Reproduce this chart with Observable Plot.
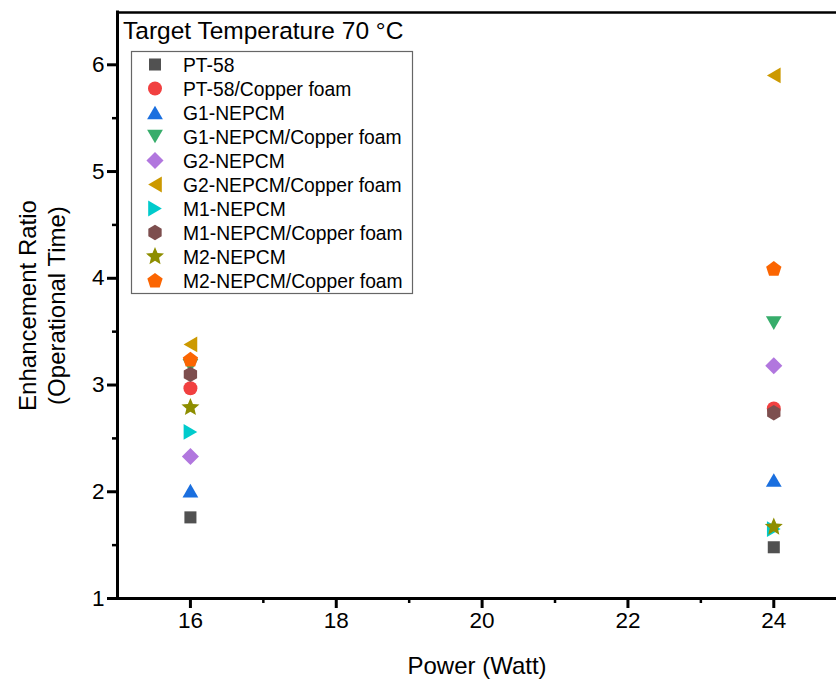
<!DOCTYPE html>
<html><head><meta charset="utf-8">
<script src="https://cdn.jsdelivr.net/npm/d3@7"></script>
<script src="https://cdn.jsdelivr.net/npm/@observablehq/plot@0.6"></script>
<style>
body{margin:0;background:#fff;}
#chart svg{display:block;}
</style>
</head><body><div id="chart"></div>
<script>
// ---- data ----
const powers = [16, 24];
const seriesNames = ["PT-58", "PT-58/Copper foam", "G1-NEPCM", "G1-NEPCM/Copper foam", "G2-NEPCM",
  "G2-NEPCM/Copper foam", "M1-NEPCM", "M1-NEPCM/Copper foam", "M2-NEPCM", "M2-NEPCM/Copper foam"];
const valuesAt16 = [1.76, 2.97, 2.01, 3.18, 2.33, 3.38, 2.56, 3.10, 2.79, 3.24];
const valuesAt24 = [1.48, 2.78, 2.11, 3.58, 3.18, 5.90, 1.65, 2.74, 1.67, 4.09];
const seriesColors = ["#515151", "#F14040", "#1A6FDF", "#37AD6B", "#B177DE",
  "#CC9900", "#00CBCC", "#7D4E4E", "#8E8E00", "#FB6501"];
const seriesShapes = ["square", "circle", "triangleUp", "triangleDown", "diamond",
  "triangleLeft", "triangleRight", "hexagon", "star", "pentagon"];
const xMajorTicks = [16, 18, 20, 22, 24];
const xMinorTicks = [17, 19, 21, 23];
const yMajorTicks = [1, 2, 3, 4, 5, 6];
const yMinorTicks = [1.5, 2.5, 3.5, 4.5, 5.5];
const xTitle = "Power (Watt)";
const yTitle = "Enhancement Ratio\n(Operational Time)";
const legendTitle = "Target Temperature 70 °C";

// ---- custom symbols ----
function polyPath(ctx, pts) {
  ctx.moveTo(pts[0][0], pts[0][1]);
  for (let k = 1; k < pts.length; k++) ctx.lineTo(pts[k][0], pts[k][1]);
  ctx.closePath();
}
function regularPts(n, R, rot, ox = 0, oy = 0) {
  const pts = [];
  for (let k = 0; k < n; k++) {
    const a = rot + 2 * Math.PI * k / n;
    pts.push([R * Math.cos(a) + ox, R * Math.sin(a) + oy]);
  }
  return pts;
}
function makeSymbol(kind) {
  return {
    draw(ctx, size) {
      const r = Math.sqrt(size / Math.PI);
      if (kind === "circle") { ctx.moveTo(r, 0); ctx.arc(0, 0, r, 0, 2 * Math.PI); ctx.closePath(); return; }
      if (kind === "square") { const h = 0.86 * r; polyPath(ctx, [[-h, -h], [h, -h], [h, h], [-h, h]]); return; }
      if (kind === "diamond") { const h = 1.22 * r; polyPath(ctx, [[0, -h], [h, 0], [0, h], [-h, 0]]); return; }
      const T = 1.3 * r;
      if (kind === "triangleUp") { polyPath(ctx, regularPts(3, T, -Math.PI / 2, 0, T / 4)); return; }
      if (kind === "triangleDown") { polyPath(ctx, regularPts(3, T, Math.PI / 2, 0, -T / 4)); return; }
      if (kind === "triangleLeft") { polyPath(ctx, regularPts(3, T, Math.PI, T / 4, 0)); return; }
      if (kind === "triangleRight") { polyPath(ctx, regularPts(3, T, 0, -T / 4, 0)); return; }
      if (kind === "pentagon") { polyPath(ctx, regularPts(5, 1.15 * r, -Math.PI / 2, 0, 0.5)); return; }
      if (kind === "hexagon") { polyPath(ctx, regularPts(6, 1.1 * r, -Math.PI / 2)); return; }
      if (kind === "star") {
        const R = 1.35 * r, ri = R * 0.45, pts = [];
        for (let k = 0; k < 10; k++) {
          const a = -Math.PI / 2 + Math.PI * k / 5;
          const rr = k % 2 ? ri : R;
          pts.push([rr * Math.cos(a), rr * Math.sin(a)]);
        }
        polyPath(ctx, pts); return;
      }
    }
  };
}
const symbolObjects = seriesShapes.map(makeSymbol);
const dotR = 7;

// ---- chart ----
const xDomain = [15, 24.86];
const yDomain = [1, 6.49];
const seriesData = seriesNames.map((name, i) =>
  powers.map((p, j) => ({ series: name, power: p, value: [valuesAt16, valuesAt24][j][i] })));

const font = "'Liberation Sans', Arial, sans-serif";
const chart = Plot.plot({
  width: 836, height: 686,
  marginLeft: 117, marginRight: 0, marginTop: 12, marginBottom: 88,
  style: { fontFamily: font, fontSize: "22px", color: "black", background: "white" },
  x: { domain: xDomain, label: null },
  y: { domain: yDomain, label: null },
  marks: [
    Plot.axisX(xMinorTicks, { tickSize: 5, strokeWidth: 2.5, tickFormat: () => "", label: null }),
    Plot.axisX(xMajorTicks, { tickSize: 10, strokeWidth: 3, tickPadding: 4, fontSize: 22.5, tickFormat: d => String(d), label: null }),
    Plot.axisY(yMinorTicks, { tickSize: 5, strokeWidth: 2.5, tickFormat: () => "", label: null }),
    Plot.axisY(yMajorTicks, { tickSize: 10, strokeWidth: 3, tickPadding: 3, fontSize: 22.5, tickFormat: d => String(d), label: null }),
    Plot.ruleY([yDomain[1]], { stroke: "black", strokeWidth: 2.5 }),
    Plot.ruleY([yDomain[0]], { stroke: "black", strokeWidth: 3 }),
    Plot.ruleX([xDomain[0]], { stroke: "black", strokeWidth: 3, strokeLinecap: "square" }),
    ...seriesData.map((d, i) => Plot.dot(d, {
      x: "power", y: "value", r: dotR, symbol: symbolObjects[i],
      fill: seriesColors[i], stroke: "none"
    })),
    Plot.text([xTitle], { text: d => d, frameAnchor: "bottom", dy: 75, fontSize: 24 }),
    Plot.text([yTitle], { text: d => d, frameAnchor: "left", dx: -76, rotate: -90,
      fontSize: 24, lineHeight: 1.17, textAnchor: "middle", lineAnchor: "middle" })
  ]
});

// ---- legend inside the frame ----
const svg = d3.select(chart);
const lg = svg.append("g").attr("font-family", font).attr("text-anchor", "start");
lg.append("text").attr("x", 123).attr("y", 39).attr("font-size", 24.5).attr("fill", "black")
  .attr("text-anchor", "start").text(legendTitle);
lg.append("rect").attr("x", 131.5).attr("y", 51.5).attr("width", 281).attr("height", 242)
  .attr("fill", "white").attr("stroke", "#666").attr("stroke-width", 1.2);
const symGen = d3.symbol().size(Math.PI * dotR * dotR);
seriesNames.forEach((name, i) => {
  const cy = 64.5 + 24 * i;
  lg.append("path").attr("transform", `translate(155,${cy})`)
    .attr("d", symGen.type(symbolObjects[i])()).attr("fill", seriesColors[i]);
  lg.append("text").attr("x", 183).attr("y", cy + 7).attr("font-size", 19.3).attr("fill", "black")
    .attr("text-anchor", "start").text(name);
});

document.getElementById("chart").append(chart);
</script>
</body></html>
